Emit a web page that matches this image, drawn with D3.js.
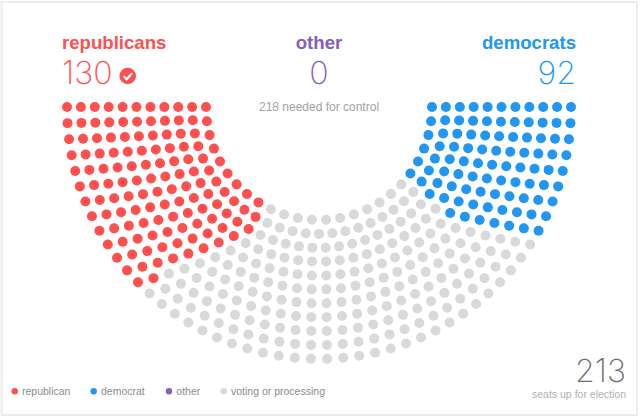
<!DOCTYPE html>
<html>
<head>
<meta charset="utf-8">
<script src="https://cdn.jsdelivr.net/npm/d3@7"></script>
<style>
  html, body { margin: 0; padding: 0; background: #fff; }
  svg { display: block; font-family: "Liberation Sans", sans-serif; }
  .big { font-family: Inter, "Liberation Sans", sans-serif; font-weight: 200; font-size: 32px; }
</style>
</head>
<body>
<svg id="chart" width="640" height="419"></svg>
<script>
// seats in each row, inner row first
const rowSeats = [26, 31, 34, 36, 38, 40, 42, 44, 46, 48, 50];
// how many seats of each row are called
const repByRow = [9, 11, 12, 12, 12, 12, 12, 12, 12, 13, 13];
const demByRow = [6, 7, 8, 8, 9, 9, 9, 9, 9, 9, 9];

const partyNames = ['republicans', 'other', 'democrats'];
const partyTotals = [130, 0, 92];
const legendLabels = ['republican', 'democrat', 'other', 'voting or processing'];
const colors = { rep: '#ff5050', dem: '#2196f3', other: '#8560b5', none: '#d9d9d9' };

const svg = d3.select('#chart');

// card border
svg.append('rect').attr('x', 1.5).attr('y', 2).attr('width', 635.5).attr('height', 413)
  .attr('fill', '#fff').attr('stroke', '#ececec').attr('stroke-width', 2);

const cx = 319, cy = 107;
const radius = d3.scaleLinear().domain([0, rowSeats.length - 1]).range([113, 252]);

rowSeats.forEach((n, row) => {
  const angle = d3.scaleLinear().domain([0, n - 1]).range([Math.PI, 0]);
  const r = radius(row);
  svg.append('g').selectAll('circle')
    .data(d3.range(n))
    .enter().append('circle')
    .attr('cx', i => cx + r * Math.cos(angle(i)))
    .attr('cy', i => cy + r * Math.sin(angle(i)))
    .attr('r', 5)
    .attr('fill', i => {
      if (i < repByRow[row]) return colors.rep;
      if (i >= n - demByRow[row]) return colors.dem;
      return colors.none;
    });
});

// headers
const headX = [62, 319, 576];
const headAnchor = ['start', 'middle', 'end'];
const headColor = [colors.rep, colors.other, colors.dem];
partyNames.forEach((name, i) => {
  svg.append('text').attr('x', headX[i]).attr('y', 49)
    .attr('text-anchor', headAnchor[i]).attr('fill', headColor[i])
    .style('font-size', '18.6px').style('font-weight', 700)
    .text(name);
  svg.append('text').attr('class', 'big').attr('x', headX[i]).attr('y', 84)
    .attr('text-anchor', headAnchor[i]).attr('fill', headColor[i])
    .text(partyTotals[i]);
});

// check mark next to the winner
svg.append('circle').attr('cx', 127.7).attr('cy', 76).attr('r', 8.3).attr('fill', colors.rep);
svg.append('path').attr('d', 'M123.5,76 L126.7,79.3 L132.1,73.1')
  .attr('fill', 'none').attr('stroke', '#fff').attr('stroke-width', 2.2);

svg.append('text').attr('x', 319).attr('y', 111).attr('text-anchor', 'middle')
  .attr('fill', '#a3a3a3').style('font-size', '12px').text('218 needed for control');

// legend
const legendX = [14.7, 93.7, 169, 223.7];
const legendTextX = [22, 101, 176.3, 231];
const legendColor = [colors.rep, colors.dem, colors.other, colors.none];
legendLabels.forEach((label, i) => {
  svg.append('circle').attr('cx', legendX[i]).attr('cy', 391.3).attr('r', 3.2).attr('fill', legendColor[i]);
  svg.append('text').attr('x', legendTextX[i]).attr('y', 394.8)
    .attr('fill', '#8c8c8c').style('font-size', '10.5px').text(label);
});

// seats up
svg.append('text').attr('class', 'big').attr('x', 626).attr('y', 382).attr('text-anchor', 'end')
  .attr('fill', '#6e6e6e').text('213');
svg.append('text').attr('x', 626).attr('y', 398).attr('text-anchor', 'end')
  .attr('fill', '#b0b0b0').style('font-size', '10.5px').text('seats up for election');
</script>
</body>
</html>
